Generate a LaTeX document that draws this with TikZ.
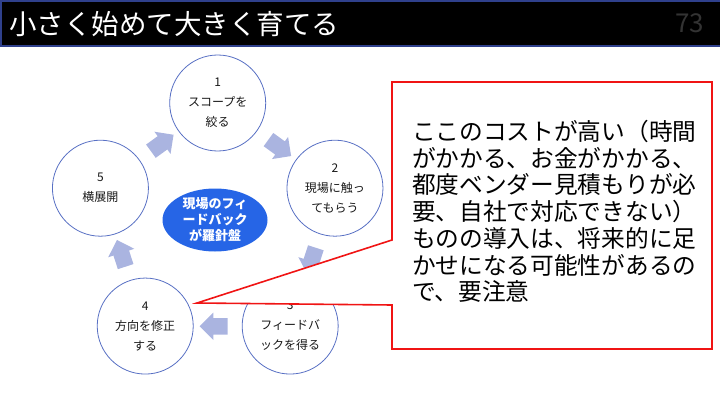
\documentclass[tikz,border=0pt]{standalone}
\usepackage{fontspec}
\setmainfont{Noto Sans CJK JP}
\usetikzlibrary{calc,shapes.geometric,shapes.arrows}
\definecolor{ringblue}{RGB}{88,112,196}
\definecolor{arrowblue}{RGB}{170,180,224}
\definecolor{hubblue}{RGB}{38,101,230}
\definecolor{barblue}{RGB}{47,64,140}
\definecolor{calloutred}{RGB}{240,20,20}

\begin{document}
\begin{tikzpicture}[
    x=1pt, y=1pt,
    titlebar/.style={draw=barblue, line width=1.2pt, fill=black,
        minimum width=719pt, minimum height=45pt, inner sep=0pt},
    stepcircle/.style={circle, draw=ringblue, line width=0.8pt, fill=white,
        minimum size=96pt, inner sep=0pt, align=center, text=black!90,
        font=\fontsize{12}{20}\selectfont},
    hub/.style={ellipse, fill=hubblue, minimum width=105pt, minimum height=63pt,
        inner sep=0pt, align=center, text=white,
        font=\bfseries\fontsize{13}{16}\selectfont},
    blockarrow/.style={single arrow, fill=arrowblue, minimum height=28pt,
        inner xsep=0pt, inner ysep=8pt, single arrow head extend=5.5pt,
        single arrow head indent=0pt},
    callout/.style={draw=calloutred, line width=1.6pt, fill=white, line join=miter},
    notetext/.style={align=left, text width=290pt, inner sep=0pt,
        font=\fontsize{23.7}{26.7}\selectfont}
]
\useasboundingbox (0,0) rectangle (720,405);

% Title bar
\node[titlebar, anchor=north west] (bar) at (0.5,404.5) {};
\node[anchor=west, text=white, font=\fontsize{27.5}{27.5}\selectfont] (title)
    at ($(bar.west)+(5,0)$) {小さく始めて大きく育てる};
\node[anchor=east, text=black!80, font=\fontsize{26}{26}\selectfont] (pageno)
    at ($(bar.east)+(-13,0)$) {73};

% Cycle
\coordinate (cyc) at (217.7,178.7);

\node[stepcircle] (scope) at ($(cyc)+(90:123.3)$) {1\\スコープを\\絞る};
\node[stepcircle] (touch) at ($(cyc)+(18:123.3)$) {2\\現場に触っ\\てもらう};
\node[stepcircle] (feedback) at ($(cyc)+(-54:123.3)$) {3\\フィードバ\\ックを得る};
\node[stepcircle] (fix) at ($(cyc)+(-126:123.3)$) {4\\方向を修正\\する};
\node[stepcircle] (expand) at ($(cyc)+(162:123.3)$) {5\\横展開};

\foreach \a in {126,54,-18,-90,-162}
    \node[blockarrow, rotate=\a-90] (arr\a) at ($(cyc)+(\a:100)$) {};

\node[hub] (compass) at (215,185) {現場のフィ\\ードバック\\が羅針盤};

% Callout
\coordinate (notenw) at (392,323);
\coordinate (notese) at (712,56);
\coordinate (tip) at (197,102);
\draw[callout] (notenw) -| (notese) -| ($(notenw)+(0,-223)$) -- (tip)
    -- ($(notenw)+(0,-158)$) -- cycle;

\node[notetext] (note) at ($(notenw)!0.5!(notese)+(5,4)$) {ここのコストが高い（時間\\
がかかる、お金がかかる、\\
都度ベンダー見積もりが必\\
要、自社で対応できない）\\
ものの導入は、将来的に足\\
かせになる可能性があるの\\
で、要注意};

\end{tikzpicture}
\end{document}
